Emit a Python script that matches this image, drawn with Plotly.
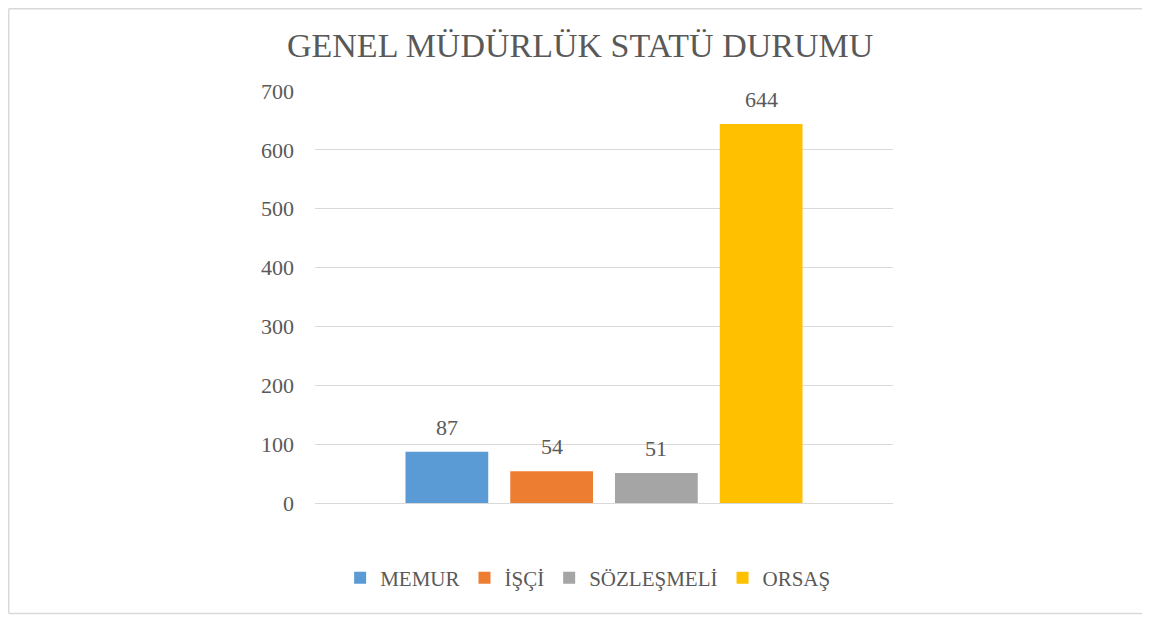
import plotly.graph_objects as go

title_text = "GENEL MÜDÜRLÜK STATÜ DURUMU"
series_names = ["MEMUR", "İŞÇİ", "SÖZLEŞMELİ", "ORSAŞ"]
series_values = [87, 54, 51, 644]
series_colors = ["#5B9BD5", "#ED7D31", "#A5A5A5", "#FFC000"]
category = [""]
y_ticks = [0, 100, 200, 300, 400, 500, 600, 700]

FONT = "Liberation Serif"
GRAY = "#595959"
W, H = 1142, 609
BARGAP = 0.275

fig = go.Figure()
for name, val, col in zip(series_names, series_values, series_colors):
    fig.add_trace(go.Bar(
        x=category, y=[val], name=name, marker_color=col,
        marker_line_width=0,
    ))

n = len(series_names)
annotations = []
for i, val in enumerate(series_values):
    annotations.append(dict(
        x=(i - (n - 1) / 2) * (1 - BARGAP) / n, y=val, xref="x", yref="y",
        text=str(val), showarrow=False, xanchor="center", yanchor="bottom",
        yshift=10, font=dict(family=FONT, size=22, color=GRAY),
    ))

# chart-area frame (left, top, bottom edges), in paper units
px_x = lambda p: (p - 307) / 578
px_y = lambda p: (495 - p) / 412
frame_style = dict(color="#D9D9D9", width=1.5)
shapes = [
    dict(type="line", xref="paper", yref="paper", x0=px_x(0.75), x1=px_x(0.75),
         y0=px_y(0.75), y1=px_y(605.5), line=frame_style, layer="below"),
    dict(type="line", xref="paper", yref="paper", x0=px_x(0.75), x1=px_x(1200),
         y0=px_y(0.75), y1=px_y(0.75), line=frame_style, layer="below"),
    dict(type="line", xref="paper", yref="paper", x0=px_x(0.75), x1=px_x(1200),
         y0=px_y(605.5), y1=px_y(605.5), line=frame_style, layer="below"),
]

fig.update_layout(
    width=W, height=H,
    paper_bgcolor="white", plot_bgcolor="white",
    margin=dict(l=307, r=257, t=83, b=114, autoexpand=False),
    barmode="group", bargap=BARGAP, bargroupgap=0.21,
    title=dict(text=title_text, x=0.501, xref="container", xanchor="center",
               y=1 - 37 / H, yref="container", yanchor="middle",
               font=dict(family=FONT, size=34, color=GRAY)),
    font=dict(family=FONT, color=GRAY),
    showlegend=True,
    legend=dict(orientation="h", x=0.508, xref="container", xanchor="center",
                y=1 - 570 / H, yref="container", yanchor="middle",
                font=dict(family=FONT, size=21, color=GRAY),
                itemclick=False, itemdoubleclick=False,
                traceorder="normal"),
    xaxis=dict(showticklabels=False, showgrid=False, zeroline=False,
               showline=False, ticks="", range=[-0.5, 0.5]),
    yaxis=dict(range=[0, 700], tickvals=y_ticks, showgrid=True,
               gridcolor="#D9D9D9", gridwidth=1.3, zeroline=True,
               zerolinecolor="#D9D9D9", zerolinewidth=1.3,
               showline=False, ticks="",
               ticklabelstandoff=20,
               tickfont=dict(family=FONT, size=22, color=GRAY)),
    annotations=annotations,
    shapes=shapes,
)

fig.write_html("out.html")
